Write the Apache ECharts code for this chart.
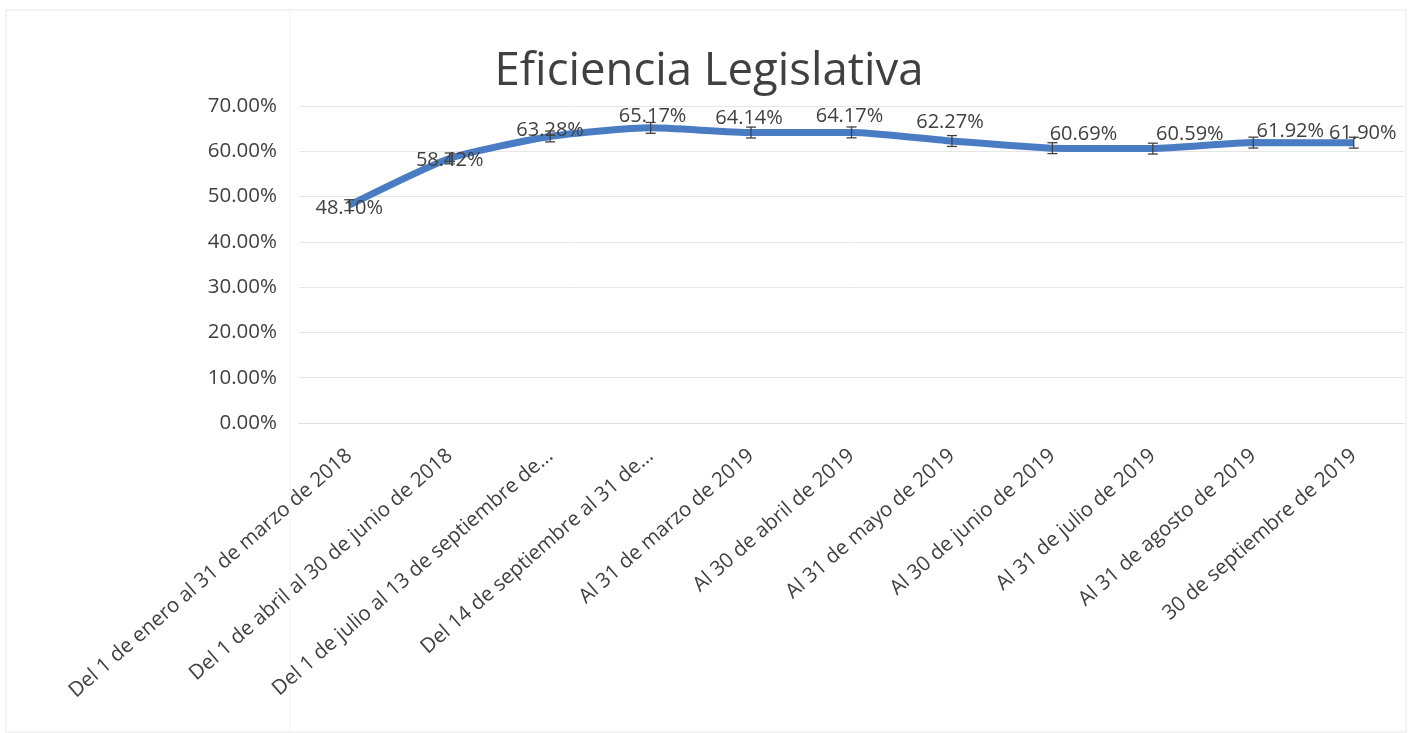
<!DOCTYPE html>
<html>
<head>
<meta charset="utf-8">
<script src="https://cdn.jsdelivr.net/npm/echarts@6/dist/echarts.min.js"></script>
<style>
html,body{margin:0;padding:0;background:#fff;}
#c{width:1413px;height:733px;}
</style>
</head>
<body>
<div id="c"></div>
<script>
const categories = [
  "Del 1 de enero al 31 de marzo de 2018",
  "Del 1 de abril al 30 de junio de 2018",
  "Del 1 de julio al 13 de septiembre de...",
  "Del 14 de septiembre al 31 de...",
  "Al 31 de marzo de 2019",
  "Al 30 de abril de 2019",
  "Al 31 de mayo de 2019",
  "Al 30 de junio de 2019",
  "Al 31 de julio de 2019",
  "Al 31 de agosto de 2019",
  "30 de septiembre de 2019"
];
const values = [0.4810, 0.5842, 0.6328, 0.6517, 0.6414, 0.6417, 0.6227, 0.6069, 0.6059, 0.6192, 0.6190];
const errors = [0.012, 0.012, 0.012, 0.012, 0.012, 0.012, 0.012, 0.012, 0.012, 0.012, 0.012];
const yTicks = [0, 0.1, 0.2, 0.3, 0.4, 0.5, 0.6, 0.7];

// label offsets (style only)
const labelOffsets = [[0,3],[0,2],[0,-6],[2,-12],[-2,-14],[-2,-16],[-2,-19],[31,-14],[37,-14],[37,-11],[9,-9]];

const FONT = "Open Sans";
const chart = echarts.init(document.getElementById('c'));
const pct = v => (v*100).toFixed(2) + '%';

chart.setOption({
  backgroundColor: '#fff',
  animation: false,
  title: {
    text: 'Eficiencia Legislativa',
    left: 704, top: 44, textAlign: 'center',
    textStyle: {fontFamily: FONT, fontSize: 45.5, fontWeight: 'normal', color: '#404040'}
  },
  grid: {left: 299, right: 9, top: 106, bottom: 310, containLabel: false},
  xAxis: {
    type: 'category', data: categories, boundaryGap: true,
    axisLine: {show: true, lineStyle: {color: '#e0e0e0'}},
    axisTick: {show: false},
    axisLabel: {interval: 0, rotate: 41, fontFamily: FONT, fontSize: 20.5, color: '#404040', margin: 30}
  },
  yAxis: {
    type: 'value', min: 0, max: 0.7, interval: 0.1,
    axisLine: {show: false}, axisTick: {show: false},
    splitLine: {lineStyle: {color: '#e6e6e6', width: 1}},
    axisLabel: {fontFamily: FONT, fontSize: 20.5, color: '#404040', margin: 22,
      formatter: v => pct(v)}
  },
  series: [
    {
      type: 'line', data: values,
      symbol: 'none',
      smooth: 0.2,
      lineStyle: {color: '#4a7cc4', width: 7},
      z: 2
    },
    {
      type: 'scatter', data: values.map((v,i)=>({value: [i, v], label: {offset: labelOffsets[i]}})),
      symbolSize: 1, itemStyle: {color: 'rgba(0,0,0,0)', opacity: 1},
      label: {show: true, position: 'inside', fontFamily: FONT, fontSize: 20, color: '#404040',
        formatter: p => pct(p.value[1])},
      z: 4
    },
    {
      type: 'custom', z: 3,
      data: values.map((v,i)=>[i, v - errors[i], v + errors[i]]),
      renderItem: function(params, api){
        const x = api.value(0);
        const lo = api.coord([x, api.value(1)]);
        const hi = api.coord([x, api.value(2)]);
        const w = 5;
        const st = {stroke: '#404040', lineWidth: 1.3};
        return {type: 'group', children: [
          {type:'line', shape:{x1:lo[0],y1:lo[1],x2:hi[0],y2:hi[1]}, style: st},
          {type:'line', shape:{x1:lo[0]-w,y1:lo[1],x2:lo[0]+w,y2:lo[1]}, style: st},
          {type:'line', shape:{x1:hi[0]-w,y1:hi[1],x2:hi[0]+w,y2:hi[1]}, style: st}
        ]};
      }
    }
  ],
  graphic: [
    {type:'rect', shape:{x:6, y:10, width:1400, height:722}, style:{fill:'none', stroke:'#e6e6e6', lineWidth:1}, silent:true},
    {type:'line', shape:{x1:290, y1:10, x2:290, y2:733}, style:{stroke:'#f2f2f2', lineWidth:1}, silent:true}
  ]
});
</script>
</body>
</html>
